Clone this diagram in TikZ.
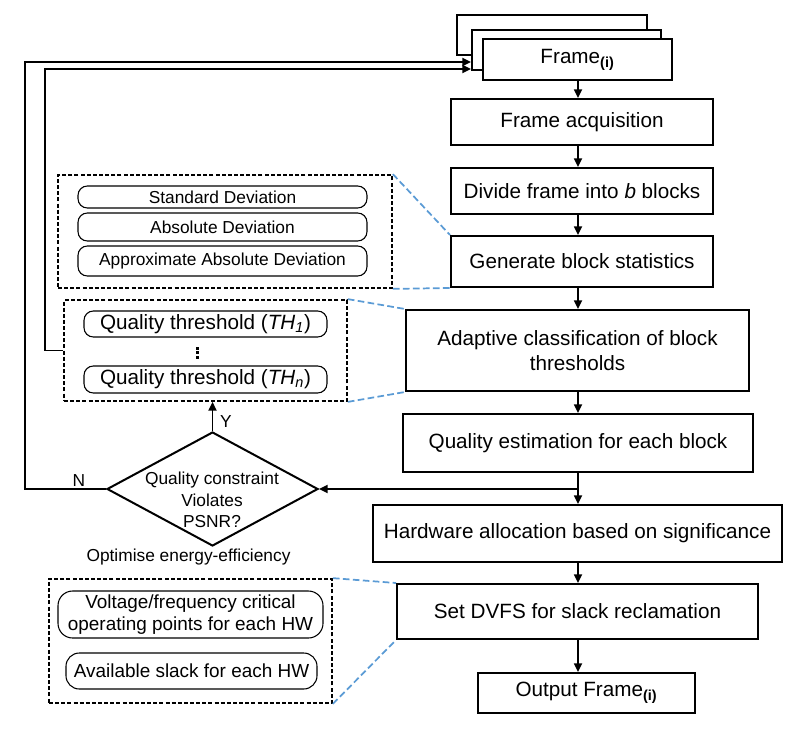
\documentclass[tikz,border=0pt]{standalone}
\usepackage{fontspec}
\setmainfont{Liberation Sans}
\usetikzlibrary{shapes.geometric,arrows.meta}
\definecolor{linkblue}{RGB}{91,155,213}
\newcommand{\fsMain}{\fontsize{15.5}{18.8}\selectfont}
\newcommand{\fsSmall}{\fontsize{13}{16}\selectfont}
\newcommand{\fsMid}{\fontsize{14.2}{16.5}\selectfont}
\begin{document}
\begin{tikzpicture}[x=0.75pt,y=-0.75pt,
  box/.style={draw, line width=1.5pt, inner sep=0pt, align=center, font=\fsMain, fill=white},
  dbox/.style={draw, line width=1.3pt, dash pattern=on 3pt off 1.6pt, inner sep=0pt},
  rbox/.style={draw, line width=0.8pt, rounded corners=7pt, inner sep=0pt, align=center},
  arr/.style={line width=1.3pt, -{Triangle[length=6.5pt,width=6pt]}},
  blink/.style={draw=linkblue, line width=1.3pt, dash pattern=on 5pt off 2.5pt},
  vdot/.style={fill=black}
]
\useasboundingbox (0,0) rectangle (802,749);
\coordinate (ax) at (578,0);

% frame stack
\node[box, minimum width=142.5pt, minimum height=30pt] (fb) at (552,35) {};
\node[box, minimum width=141.75pt, minimum height=30pt] (fm) at (566.5,50) {};
\node[box, minimum width=141.75pt, minimum height=30.75pt] (fr) at (577.5,59.5) {Frame\textsubscript{\textbf{(i)}}};

% main flow
\node[box, minimum width=196.5pt, minimum height=34.5pt] (fa) at (582,122) {Frame acquisition};
\node[box, minimum width=196.5pt, minimum height=34.5pt] (dv) at (582,191) {Divide frame into \textit{b} blocks};
\node[box, minimum width=196.5pt, minimum height=38.25pt] (gb) at (582,261.5) {Generate block statistics};
\node[box, minimum width=257.25pt, minimum height=60.75pt] (ac) at (577.5,350.5) {Adaptive classification of block\\thresholds};
\node[box, minimum width=262.5pt, minimum height=43.5pt] (qe) at (578,443) {Quality estimation for each block};
\node[box, minimum width=306.75pt, minimum height=42.75pt] (hw) at (577.5,533.5) {Hardware allocation based on significance};
\node[box, minimum width=270.75pt, minimum height=41.25pt] (ds) at (577.5,611.5) {Set DVFS for slack reclamation};
\node[box, minimum width=162.75pt, minimum height=30pt] (of) at (586.5,693) {Output Frame\textsubscript{\textbf{(i)}}};

% dashed groups
\node[dbox, minimum width=250.5pt, minimum height=84.75pt] (d1) at (225,231.5) {};
\node[rbox, font=\fsSmall, minimum width=216.75pt, minimum height=16.5pt] (sd) at (222.5,197) {Standard Deviation};
\node[rbox, font=\fsSmall, minimum width=216.75pt, minimum height=21pt] (adv) at (222.5,227) {Absolute Deviation};
\node[rbox, font=\fsSmall, minimum width=216.75pt, minimum height=22.5pt] (aad) at (222.5,261) {Approximate Absolute Deviation};

\node[dbox, minimum width=212.25pt, minimum height=75.75pt] (d2) at (205.5,350.5) {};
\node[rbox, font=\fsMain, minimum width=182.25pt, minimum height=19.5pt] (th1) at (205.5,324) {Quality threshold (\textit{TH\textsubscript{1}})};
\fill[vdot] (195.7,346.5) rectangle (198.7,349.5);
\fill[vdot] (195.7,351) rectangle (198.7,354);
\fill[vdot] (195.7,355.5) rectangle (198.7,358.5);
\node[rbox, font=\fsMain, minimum width=182.25pt, minimum height=20.25pt] (thn) at (205.5,379.5) {Quality threshold (\textit{TH\textsubscript{n}})};

\node[dbox, minimum width=212.25pt, minimum height=93pt] (d3) at (190.5,641) {};
\node[rbox, rounded corners=11pt, font=\fsMid, minimum width=198.75pt, minimum height=35.25pt] (vf) at (190.5,614.5) {Voltage/frequency critical\\operating points for each HW};
\node[rbox, rounded corners=10pt, font=\fsMid, minimum width=188.25pt, minimum height=27pt] (sl) at (191.5,671) {Available slack for each HW};

% decision
\node[draw, diamond, line width=1.5pt, minimum width=158.25pt, minimum height=85.5pt, inner sep=0pt] (dm) at (212.5,489) {};
\node[font=\fsSmall, align=center, inner sep=0pt] (dmt) at (212,500) {Quality constraint\\Violates\\PSNR?};
\node[font=\fsSmall, inner sep=0pt] (opt) at (188.5,557) {Optimise energy-efficiency};
\node[font=\fsSmall, inner sep=0pt] (ylab) at (226,422) {Y};
\node[font=\fsSmall, inner sep=0pt] (nlab) at (79,481) {N};

% flow arrows
\draw[arr] (fr.south -| ax) -- (fa.north -| ax);
\draw[arr] (fa.south -| ax) -- (dv.north -| ax);
\draw[arr] (dv.south -| ax) -- (gb.north -| ax);
\draw[arr] (gb.south -| ax) -- (ac.north -| ax);
\draw[arr] (ac.south -| ax) -- (qe.north -| ax);
\draw[arr] (qe.south -| ax) -- (hw.north -| ax);
\draw[arr] (hw.south -| ax) -- (ds.north -| ax);
\draw[arr] (ds.south -| ax) -- (of.north -| ax);

% decision connectors
\draw[arr] (ax |- dm.east) -- (dm.east);
\draw[arr] (dm.north) -- (d2.south -| dm.north);
\coordinate (loopN) at (25,62);
\coordinate (loopY) at (45,69);
\draw[arr] (dm.west) -| (loopN) -- (loopN -| fm.west);
\draw[arr] (d2.west) -| (loopY) -- (loopY -| fm.west);

% blue zoom lines
\draw[blink] (d1.north east) -- (gb.north west);
\draw[blink] (d1.south east) -- (gb.south west);
\draw[blink] (d2.north east) -- (ac.north west);
\draw[blink] (d2.south east) -- (ac.south west);
\draw[blink] (d3.north east) -- (ds.north west);
\draw[blink] (d3.south east) -- (ds.south west);
\end{tikzpicture}
\end{document}
